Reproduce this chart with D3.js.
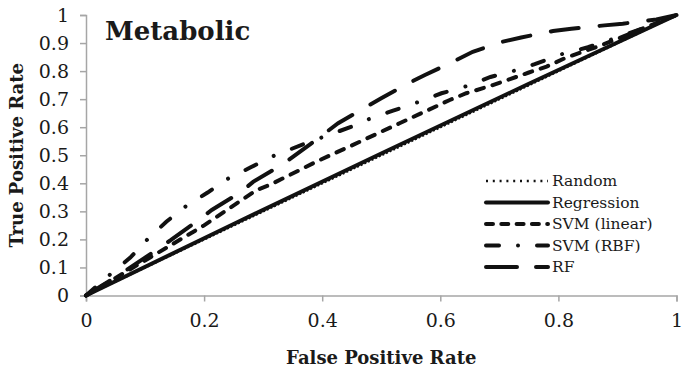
<!DOCTYPE html>
<html><head>
<meta charset="utf-8">
<script src="https://d3js.org/d3.v7.min.js"></script>
<style>
  body { margin: 0; background: #fff; }
  text { font-family: "DejaVu Serif", serif; fill: #1a1a1a; }
  .axis path, .axis line { stroke: #a6a6a6; stroke-width: 1.5px; }
  .axis text { font-size: 19px; }
  text.title { font-weight: bold; font-size: 26px; }
  text.axislabel { font-weight: bold; font-size: 18px; text-anchor: middle; }
  text.legend { font-size: 15.5px; }
  path.curve { fill: none; stroke: #111; }
</style>
</head>
<body>
<svg id="chart" width="682" height="370"></svg>
<script>
// ROC curves (false positive rate / true positive rate)
const seriesNames = ["Random", "Regression", "SVM (linear)", "SVM (RBF)", "RF"];

const randomFpr = [0, 1];
const randomTpr = [0, 1];

const regressionFpr = [0, 0.25, 0.5, 0.75, 1];
const regressionTpr = [0, 0.255, 0.506, 0.755, 1];

const linearFpr = [0, 0.1, 0.2, 0.289, 0.311, 0.39, 0.45, 0.531, 0.616, 0.644, 0.689, 0.75, 0.78, 0.813, 0.87, 0.9, 0.937, 0.97, 1];
const linearTpr = [0, 0.125, 0.25, 0.376, 0.394, 0.477, 0.535, 0.614, 0.697, 0.721, 0.75, 0.795, 0.816, 0.848, 0.89, 0.915, 0.947, 0.975, 1];

const rbfFpr = [0, 0.042, 0.075, 0.104, 0.136, 0.169, 0.206, 0.238, 0.279, 0.318, 0.375, 0.45, 0.478, 0.52, 0.559, 0.602, 0.641, 0.685, 0.723, 0.76, 0.805, 0.85, 0.9, 0.95, 1];
const rbfTpr = [0, 0.077, 0.135, 0.2, 0.263, 0.318, 0.367, 0.414, 0.457, 0.498, 0.545, 0.602, 0.628, 0.659, 0.687, 0.721, 0.744, 0.779, 0.8, 0.825, 0.86, 0.885, 0.92, 0.957, 1];

const rfFpr = [0, 0.05, 0.1, 0.144, 0.187, 0.213, 0.261, 0.283, 0.334, 0.38, 0.427, 0.475, 0.5, 0.551, 0.574, 0.621, 0.655, 0.706, 0.737, 0.791, 0.822, 0.878, 0.909, 0.966, 1];
const rfTpr = [0, 0.065, 0.135, 0.198, 0.263, 0.305, 0.367, 0.405, 0.469, 0.54, 0.614, 0.673, 0.703, 0.762, 0.786, 0.833, 0.869, 0.905, 0.92, 0.943, 0.951, 0.963, 0.969, 0.984, 1];

const xTicks = [0, 0.2, 0.4, 0.6, 0.8, 1];
const xTickLabels = ["0", "0.2", "0.4", "0.6", "0.8", "1"];
const yTicks = [0, 0.1, 0.2, 0.3, 0.4, 0.5, 0.6, 0.7, 0.8, 0.9, 1];
const yTickLabels = ["0", "0.1", "0.2", "0.3", "0.4", "0.5", "0.6", "0.7", "0.8", "0.9", "1"];

// line styles, kept apart from the data
const styles = [
  { dash: "2,2",                 legendDash: "2,4.8",          width: 2.5, cap: "butt" },
  { dash: null,                  legendDash: null,             width: 4,   cap: "round" },
  { dash: "8,9",                 legendDash: "7,8.3",          width: 4,   cap: "round" },
  { dash: "12,19.5,0.01,19.5",   legendDash: "13,19,0.01,19",  width: 4,   cap: "round" },
  { dash: "28,21",               legendDash: "31,19",          width: 4,   cap: "round" }
];

const series = [
  [randomFpr, randomTpr],
  [regressionFpr, regressionTpr],
  [linearFpr, linearTpr],
  [rbfFpr, rbfTpr],
  [rfFpr, rfTpr]
].map(([fx, ty], i) => ({ name: seriesNames[i], pts: fx.map((v, j) => [v, ty[j]]) }));

const svg = d3.select("#chart");
const x = d3.scaleLinear().domain([0, 1]).range([86, 676.5]);
const y = d3.scaleLinear().domain([0, 1]).range([295.5, 15]);

// axes
svg.append("g").attr("class", "axis")
   .attr("transform", "translate(0," + y(0) + ")")
   .call(d3.axisBottom(x).tickValues(xTicks).tickFormat((d, i) => xTickLabels[i]).tickSize(6).tickPadding(12));
svg.append("g").attr("class", "axis")
   .attr("transform", "translate(" + x(0) + ",0)")
   .call(d3.axisLeft(y).tickValues(yTicks).tickFormat((d, i) => yTickLabels[i]).tickSize(6).tickPadding(11));
svg.selectAll(".axis text").attr("fill", "#1a1a1a").style("font-family", "DejaVu Serif, serif");

// curves
const line = d3.line().x(d => x(d[0])).y(d => y(d[1]));
svg.selectAll("path.curve").data(series).join("path")
   .attr("class", "curve")
   .attr("d", d => line(d.pts))
   .attr("stroke-width", (d, i) => styles[i].width)
   .attr("stroke-dasharray", (d, i) => styles[i].dash)
   .attr("stroke-linecap", (d, i) => styles[i].cap);

// titles
svg.append("text").attr("class", "title").attr("x", 105).attr("y", 40).text("Metabolic");
svg.append("text").attr("class", "axislabel")
   .attr("x", (x(0) + x(1)) / 2).attr("y", 364).text("False Positive Rate");
svg.append("text").attr("class", "axislabel")
   .attr("transform", "translate(23," + ((y(0) + y(1)) / 2) + ") rotate(-90)")
   .text("True Positive Rate");

// legend
const legend = svg.append("g");
const rows = legend.selectAll("g").data(series).join("g")
   .attr("transform", (d, i) => "translate(486," + (181 + i * 21.5) + ")");
rows.append("line").attr("x1", 0).attr("x2", 62)
   .attr("stroke", "#111")
   .attr("stroke-width", (d, i) => styles[i].width)
   .attr("stroke-dasharray", (d, i) => styles[i].legendDash)
   .attr("stroke-linecap", (d, i) => styles[i].cap);
rows.append("text").attr("class", "legend").attr("x", 66).attr("dy", "0.35em").text(d => d.name);
</script>
</body>
</html>
